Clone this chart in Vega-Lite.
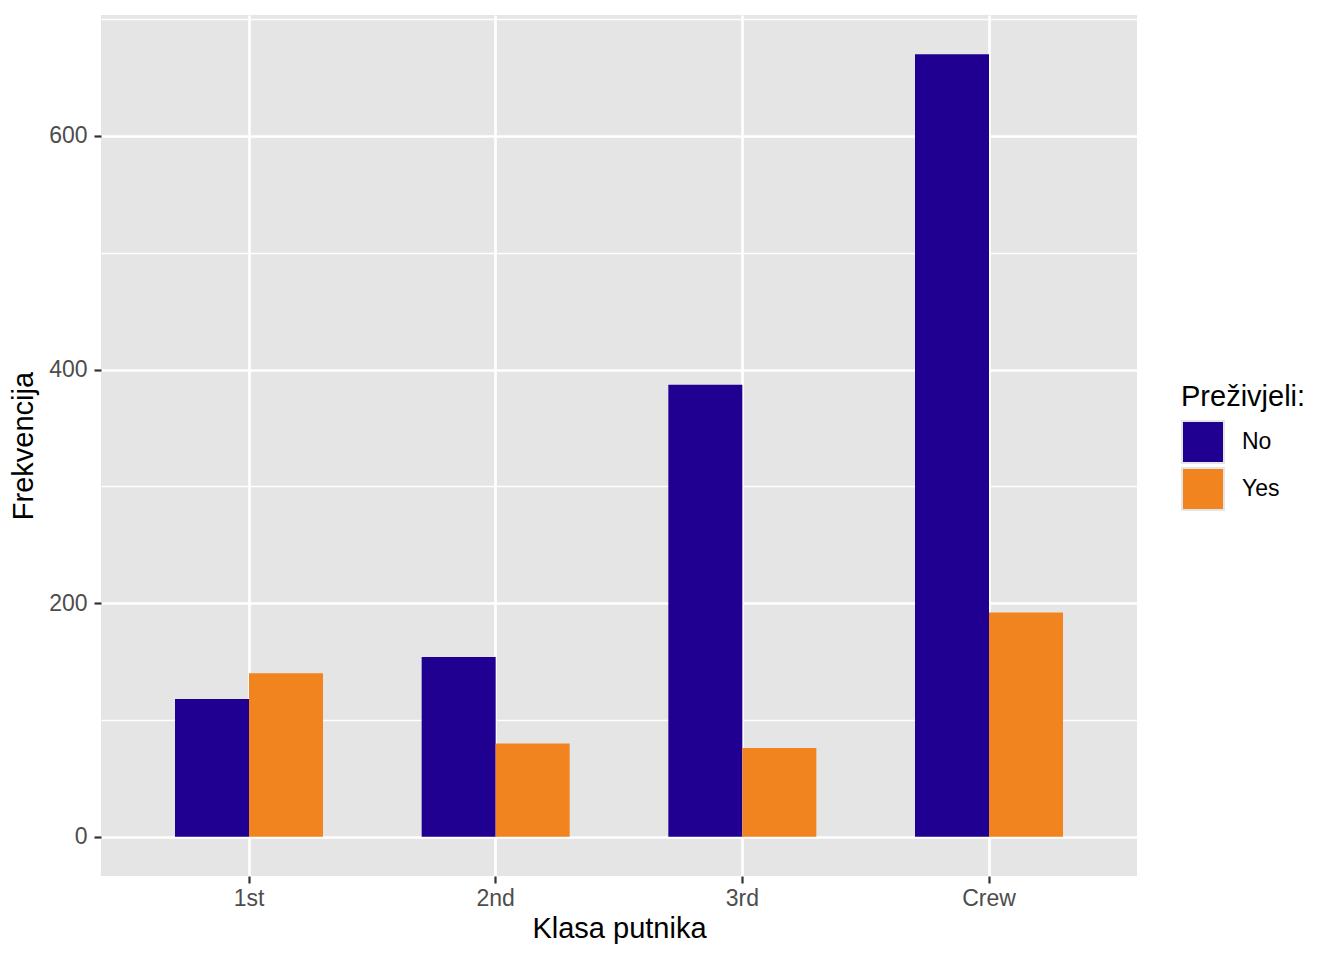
{
  "$schema": "https://vega.github.io/schema/vega-lite/v6.json",
  "width": 1036,
  "height": 861,
  "autosize": {"type": "none"},
  "padding": {"left": 101, "top": 15, "right": 207, "bottom": 84},
  "background": "white",
  "config": {
    "font": "Liberation Sans",
    "view": {"fill": "#E5E5E5", "stroke": null},
    "axis": {"domain": false, "gridColor": "white", "tickColor": "#333333", "tickSize": 7, "tickWidth": 2.2, "labelColor": "#4D4D4D", "labelFontSize": 23, "titleFontSize": 29, "titleFontWeight": "normal", "titleColor": "black", "labelPadding": 5}
  },
  "data": {
    "values": [
      {"Klasa": "1st", "Prezivjeli": "No", "n": 118},
      {"Klasa": "1st", "Prezivjeli": "Yes", "n": 140},
      {"Klasa": "2nd", "Prezivjeli": "No", "n": 154},
      {"Klasa": "2nd", "Prezivjeli": "Yes", "n": 80},
      {"Klasa": "3rd", "Prezivjeli": "No", "n": 387},
      {"Klasa": "3rd", "Prezivjeli": "Yes", "n": 76},
      {"Klasa": "Crew", "Prezivjeli": "No", "n": 670},
      {"Klasa": "Crew", "Prezivjeli": "Yes", "n": 192}
    ]
  },
  "mark": {"type": "bar"},
  "encoding": {
    "x": {
      "field": "Klasa", "type": "nominal", "sort": ["1st", "2nd", "3rd", "Crew"],
      "scale": {"paddingInner": 0.4, "paddingOuter": 0.3},
      "axis": {"title": "Klasa putnika", "labelAngle": 0, "bandPosition": 0.5, "gridWidth": 2.7, "grid": true, "titlePadding": 4, "labelPadding": 4}
    },
    "xOffset": {"field": "Prezivjeli", "type": "nominal", "scale": {"paddingInner": 0, "paddingOuter": 0}},
    "y": {
      "field": "n", "type": "quantitative",
      "scale": {"domain": [-33.5, 703.5], "nice": false, "zero": false},
      "axis": {
        "title": "Frekvencija", "titlePadding": 10, "labelPadding": 7,
        "values": [0, 100, 200, 300, 400, 500, 600, 700],
        "labelExpr": "datum.value % 200 === 0 ? datum.label : ''",
        "gridWidth": {"condition": {"test": "datum.value % 200 === 0", "value": 2.7}, "value": 1.3},
        "tickOpacity": {"condition": {"test": "datum.value % 200 === 0", "value": 1}, "value": 0}
      }
    },
    "y2": {"datum": 0},
    "color": {
      "field": "Prezivjeli", "type": "nominal",
      "scale": {"domain": ["No", "Yes"], "range": ["#1F0091", "#F28420"]},
      "legend": {
        "title": "Preživjeli:", "orient": "none", "legendX": 1080, "legendY": 368,
        "titleFontSize": 29, "titleFontWeight": "normal", "titleColor": "black", "titlePadding": 8,
        "labelFontSize": 23, "labelColor": "black", "labelOffset": 17,
        "symbolType": "square", "symbolSize": 1764, "symbolStrokeColor": "#E5E5E5", "symbolStrokeWidth": 2, "symbolOpacity": 1,
        "rowPadding": -4
      }
    }
  }
}
